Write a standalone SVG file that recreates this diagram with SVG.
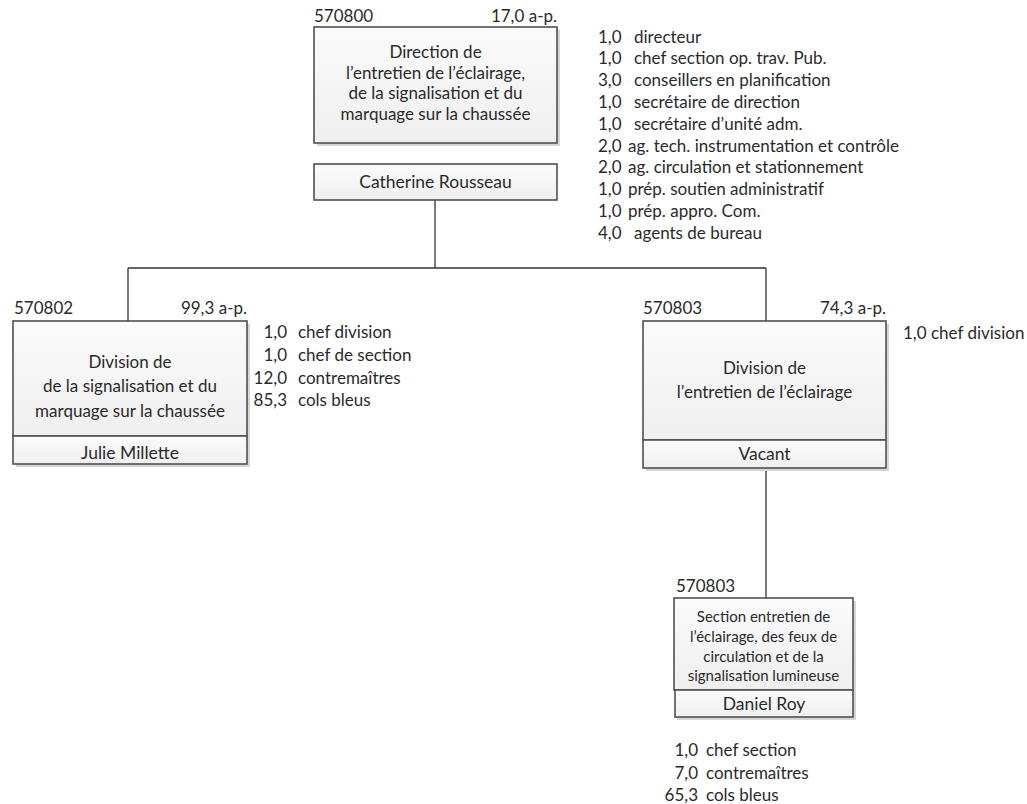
<svg xmlns="http://www.w3.org/2000/svg" width="1027" height="804" viewBox="0 0 1027 804">
<defs>
<linearGradient id="g" x1="0" y1="0" x2="0" y2="1"><stop offset="0" stop-color="#fbfbfb"/><stop offset="1" stop-color="#efefef"/></linearGradient>
<style>
text{font-family:Lato,"Open Sans",sans-serif;fill:#2a2a2a}
.t{font-size:17px;text-anchor:middle}
.n{font-size:17.5px;text-anchor:middle}
.s{font-size:15px;text-anchor:middle}
.l{font-size:17px}
.r{font-size:17px;text-anchor:end}
.box{fill:url(#g);stroke:#505050;stroke-width:1.6}
.sh{fill:#d6d6d6}
.c{stroke:#333;stroke-width:1.3;fill:none}
</style>
</defs>
<rect width="1027" height="804" fill="#fff"/>
<g id="connectors">
<path class="c" d="M435 200V268M128 268H766M128 268V321M766 268V321M766 468V598"/>
</g>
<g id="n570800">
<text class="l" x="314" y="22">570800</text>
<text class="r" x="557" y="22">17,0 a-p.</text>
<rect class="sh" x="317" y="30" width="243" height="116"/>
<rect class="box" x="314" y="27" width="243" height="116"/>
<text class="t" x="435.5" y="58">Direction de</text>
<text class="t" x="435.5" y="78.5">l’entretien de l’éclairage,</text>
<text class="t" x="435.5" y="99">de la signalisation et du</text>
<text class="t" x="435.5" y="119.5">marquage sur la chaussée</text>
<rect class="box" x="314" y="164" width="243" height="36"/>
<text class="n" x="435.5" y="188">Catherine Rousseau</text>
</g>
<g id="list570800" class="l">
<text x="598" y="42.5">1,0<tspan x="634">directeur</tspan></text>
<text x="598" y="64.3">1,0<tspan x="634">chef section op. trav. Pub.</tspan></text>
<text x="598" y="86.1">3,0<tspan x="634">conseillers en planification</tspan></text>
<text x="598" y="107.9">1,0<tspan x="634">secrétaire de direction</tspan></text>
<text x="598" y="129.7">1,0<tspan x="634">secrétaire d’unité adm.</tspan></text>
<text x="598" y="151.5">2,0<tspan x="628">ag. tech. instrumentation et contrôle</tspan></text>
<text x="598" y="173.3">2,0<tspan x="628">ag. circulation et stationnement</tspan></text>
<text x="598" y="195.1">1,0<tspan x="628">prép. soutien administratif</tspan></text>
<text x="598" y="216.9">1,0<tspan x="628">prép. appro. Com.</tspan></text>
<text x="598" y="238.7">4,0<tspan x="634">agents de bureau</tspan></text>
</g>
<g id="n570802">
<text class="l" x="14" y="314">570802</text>
<text class="r" x="247" y="314">99,3 a-p.</text>
<rect class="sh" x="16" y="324" width="234" height="143"/>
<rect class="box" x="13" y="321" width="234" height="115"/>
<text class="t" x="130" y="367.5">Division de</text>
<text class="t" x="130" y="392">de la signalisation et du</text>
<text class="t" x="130" y="416.5">marquage sur la chaussée</text>
<rect class="box" x="13" y="436" width="234" height="28"/>
<text class="n" x="130" y="459">Julie Millette</text>
</g>
<g id="list570802" class="l">
<text class="r" x="287" y="338">1,0</text><text x="298" y="338">chef division</text>
<text class="r" x="287" y="361">1,0</text><text x="298" y="361">chef de section</text>
<text class="r" x="287" y="384">12,0</text><text x="298" y="384">contremaîtres</text>
<text class="r" x="287" y="406">85,3</text><text x="298" y="406">cols bleus</text>
</g>
<g id="n570803">
<text class="l" x="643" y="314">570803</text>
<text class="r" x="886" y="314">74,3 a-p.</text>
<rect class="sh" x="646" y="324" width="243" height="147"/>
<rect class="box" x="643" y="321" width="243" height="119"/>
<text class="t" x="764.5" y="374">Division de</text>
<text class="t" x="764.5" y="398">l’entretien de l’éclairage</text>
<rect class="box" x="643" y="440" width="243" height="28"/>
<text class="n" x="764.5" y="460">Vacant</text>
<text class="l" x="903" y="339">1,0 chef division</text>
</g>
<g id="n570803s">
<text class="l" x="676" y="592">570803</text>
<rect class="sh" x="677" y="601" width="179" height="119"/>
<rect class="box" x="674" y="598" width="179" height="92"/>
<text class="s" x="763.5" y="621.5">Section entretien de</text>
<text class="s" x="763.5" y="641.5">l’éclairage, des feux de</text>
<text class="s" x="763.5" y="661.5">circulation et de la</text>
<text class="s" x="763.5" y="680.5">signalisation lumineuse</text>
<rect class="box" x="675" y="690" width="178" height="27"/>
<text class="n" x="764" y="709.5">Daniel Roy</text>
</g>
<g id="list570803s" class="l">
<text class="r" x="698" y="756">1,0</text><text x="706" y="756">chef section</text>
<text class="r" x="698" y="779">7,0</text><text x="706" y="779">contremaîtres</text>
<text class="r" x="698" y="801">65,3</text><text x="706" y="801">cols bleus</text>
</g>
</svg>
